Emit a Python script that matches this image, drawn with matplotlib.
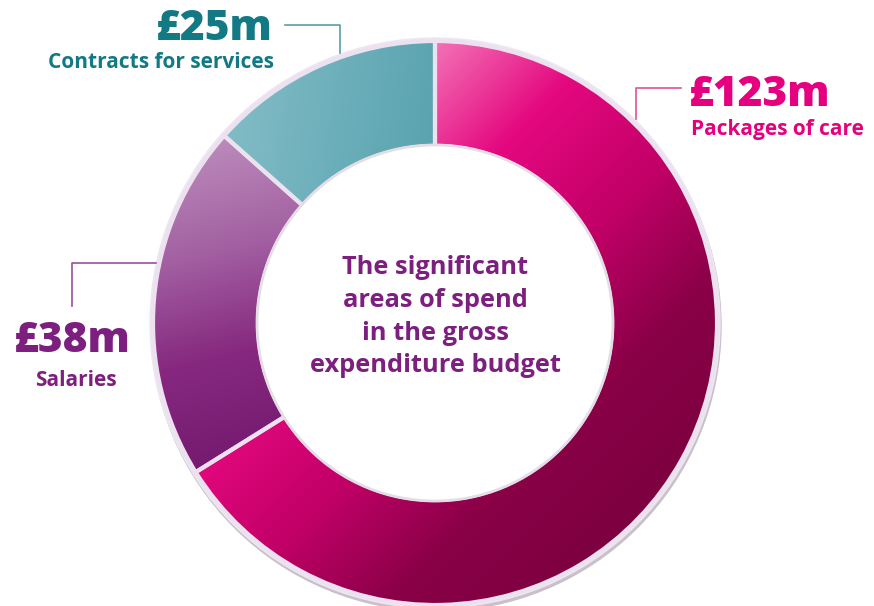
import matplotlib
matplotlib.use("Agg")
import matplotlib.pyplot as plt
import numpy as np
from matplotlib.colors import LinearSegmentedColormap
from matplotlib.patches import Circle

categories = ["Packages of care", "Salaries", "Contracts for services"]
values = [123, 38, 25]
value_labels = ["£123m", "£38m", "£25m"]
center_lines = ["The significant", "areas of spend", "in the gross", "expenditure budget"]

W, H = 874, 606
fig = plt.figure(figsize=(W / 100, H / 100), dpi=100)
ax = fig.add_axes([0, 0, 1, 1])
ax.set_xlim(0, W)
ax.set_ylim(0, H)
ax.set_aspect("equal")
ax.axis("off")

cx, cy = 435, H - 323
R = 282
width = 105

# soft shadow / lavender rim
ax.add_patch(Circle((cx + 1, cy - 3), R + 3, color="#c9c0cc", zorder=0.5))
ax.add_patch(Circle((cx, cy), R + 3, color="#eee6f1", zorder=0.6))

wedges, _ = ax.pie(values, startangle=90, counterclock=False, radius=R,
                   center=(cx, cy), frame=True,
                   wedgeprops=dict(width=width, edgecolor="#ece2ef", linewidth=3))
ax.set_xlim(0, W)
ax.set_ylim(0, H)
ax.axis("off")

grads = [
    (["#f472b6", "#e4087f", "#c30068", "#8a0047", "#7c0040"], (1, -1)),
    (["#bb8bbb", "#a361a2", "#86287f", "#751a70"], (0.25, -1)),
    (["#82bcc6", "#6aaeb9", "#55a0ac"], (1, -0.15)),
]

yy, xx = np.mgrid[0:H, 0:W]
for w, (cols, d) in zip(wedges, grads):
    d = np.array(d, float)
    d /= np.linalg.norm(d)
    proj = xx * d[0] + (H - yy) * d[1]
    verts = w.get_path().vertices
    p = verts[:, 0] * d[0] + verts[:, 1] * d[1]
    lo, hi = p.min(), p.max()
    t = np.clip((proj - lo) / (hi - lo), 0, 1)
    cmap = LinearSegmentedColormap.from_list("g", cols)
    im = ax.imshow(t, cmap=cmap, extent=(0, W, 0, H), origin="upper",
                   zorder=1, interpolation="bilinear")
    im.set_clip_path(w)
    w.set_facecolor("none")
    w.set_zorder(2)

# inner subtle shadow
ax.add_patch(Circle((cx, cy), R - width + 1, facecolor="white", edgecolor="#e4dde6",
                    linewidth=2, zorder=3))

font = "Open Sans"
teal = "#137985"
pink = "#e4007e"
purple = "#7d1f7f"

ax.text(273, H - 29, value_labels[2], ha="right", va="center", fontsize=30.5,
        fontweight="heavy", color=teal, family=font)
ax.text(274, H - 63, categories[2], ha="right", va="center", fontsize=15,
        fontweight="bold", color=teal, family=font)
ax.plot([285, 340, 340], [H - 25, H - 25, H - 53], color="#5a9fa8", lw=1.2, zorder=4)

ax.text(689, H - 95, value_labels[0], ha="left", va="center", fontsize=30.5,
        fontweight="heavy", color=pink, family=font)
ax.text(691, H - 130, categories[0], ha="left", va="center", fontsize=15,
        fontweight="bold", color=pink, family=font)
ax.plot([681, 636, 636], [H - 88, H - 88, H - 119], color="#e0509a", lw=1.2, zorder=4)

ax.text(72, H - 341, value_labels[1], ha="center", va="center", fontsize=30.5,
        fontweight="heavy", color=purple, family=font)
ax.text(76, H - 380, categories[1], ha="center", va="center", fontsize=15,
        fontweight="bold", color=purple, family=font)
ax.plot([72, 72, 156], [H - 306, H - 263, H - 263], color="#9a4f9a", lw=1.2, zorder=4)

for i, line in enumerate(center_lines):
    ax.text(cx, H - (268 + i * 32.5), line, ha="center", va="center", fontsize=18.3,
            fontweight="bold", color=purple, family=font, zorder=5)

fig.savefig("out.png", dpi=100)
